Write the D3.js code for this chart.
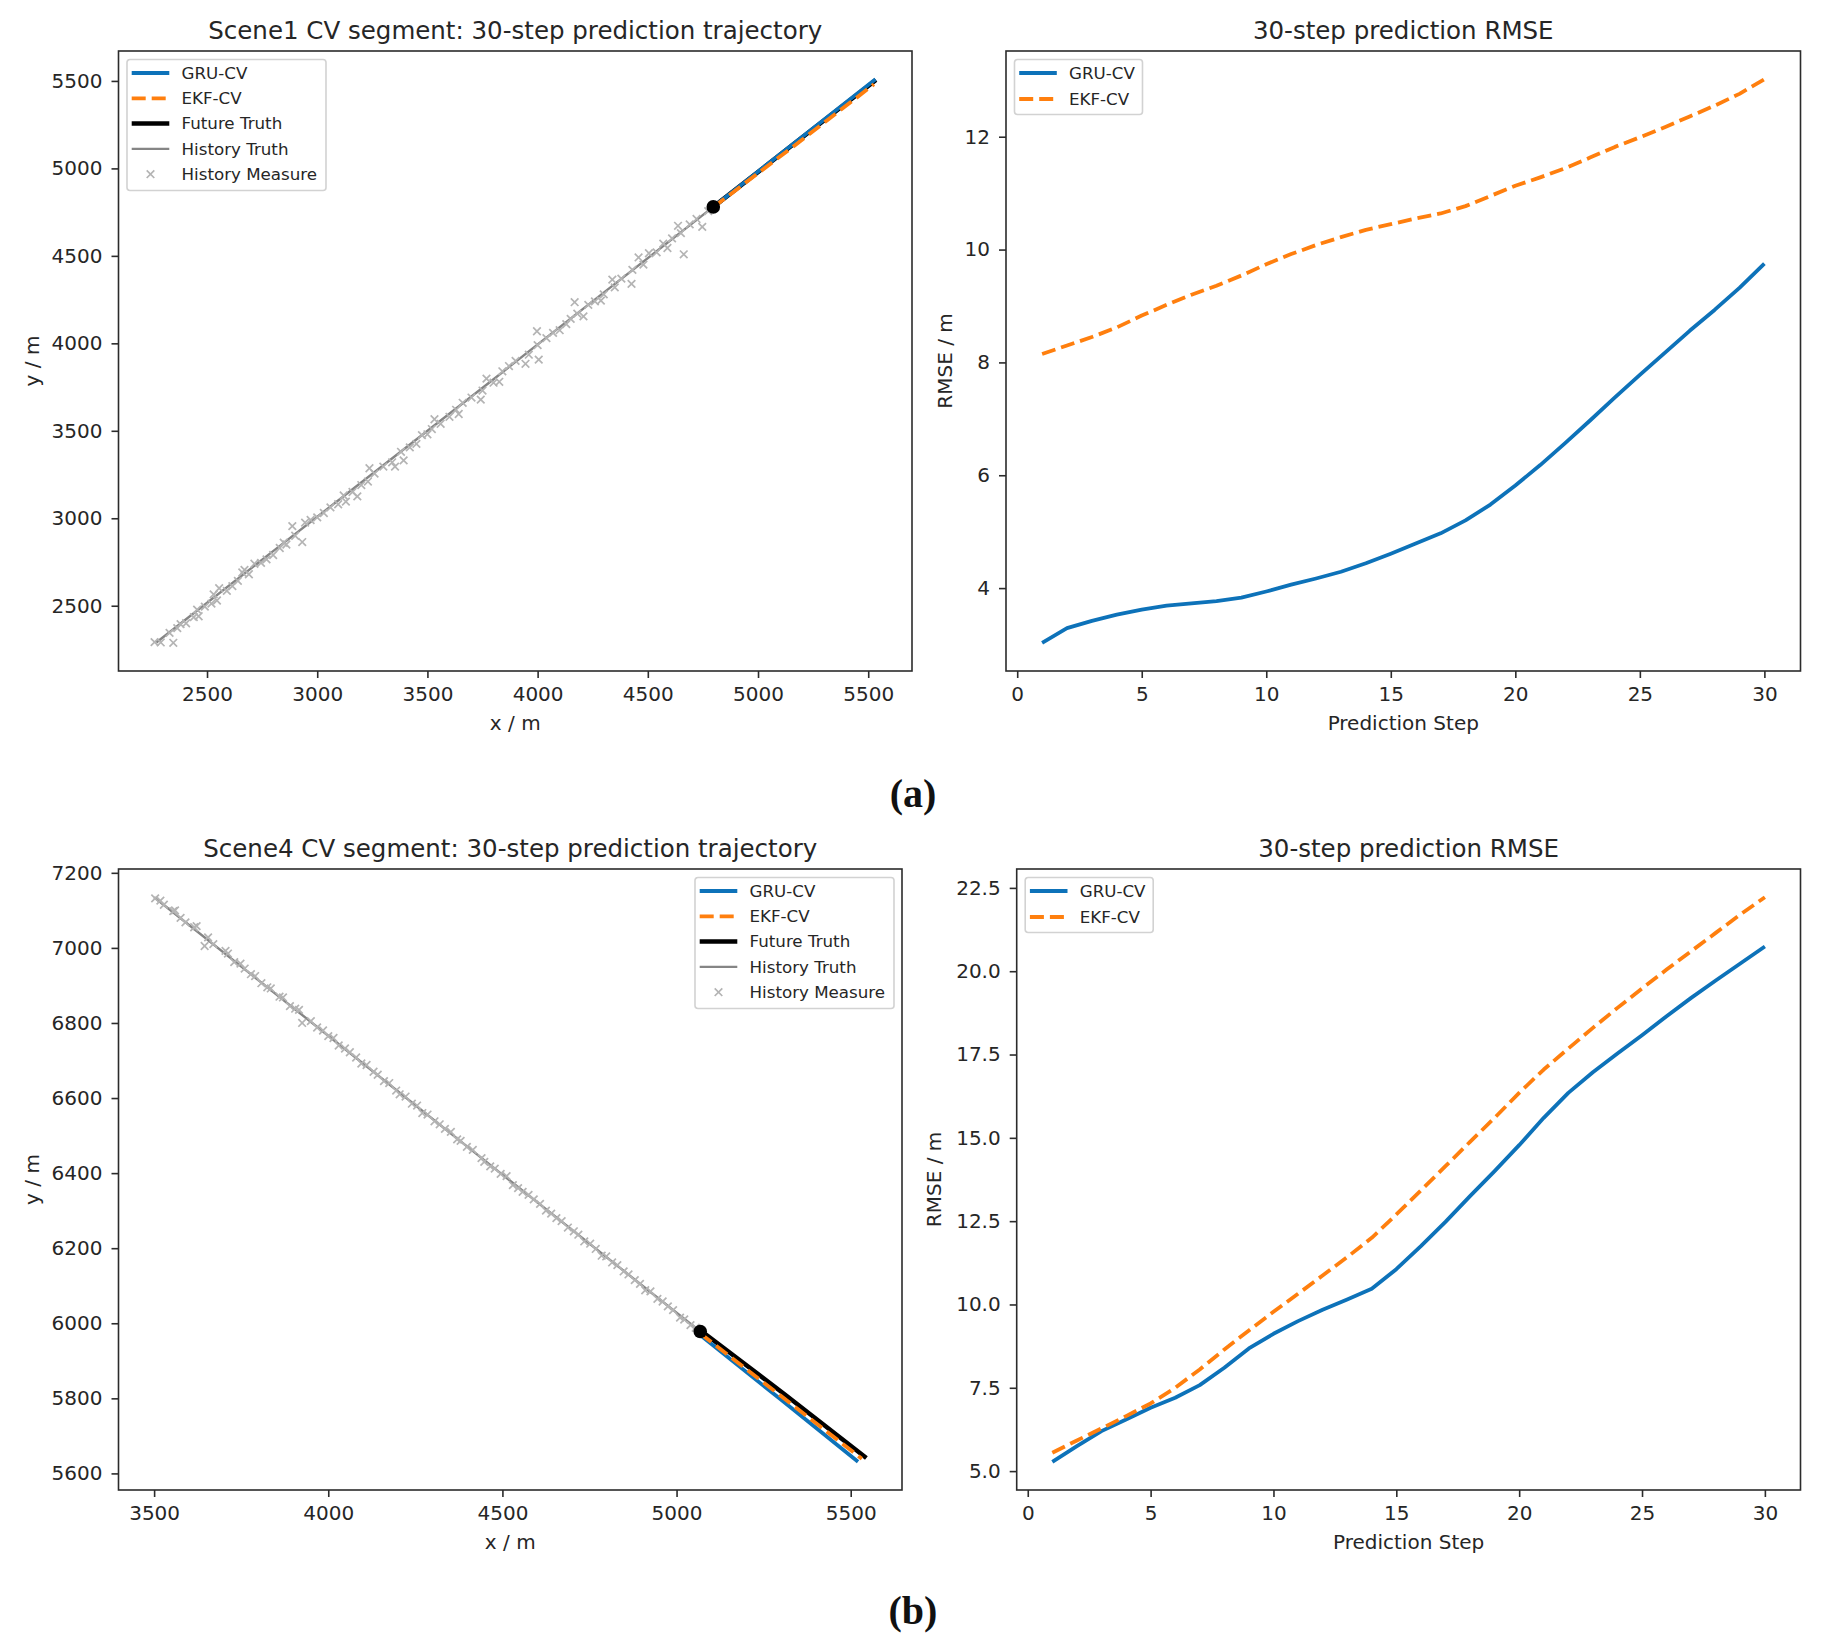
<!DOCTYPE html>
<html>
<head>
<meta charset="utf-8">
<script src="https://cdn.jsdelivr.net/npm/d3@7"></script>
<style>
  body { margin: 0; background: #fff; }
  svg { display: block; }
  text { font-family: "DejaVu Sans", sans-serif; fill: #262626; }
</style>
</head>
<body>
<div id="chart"></div>
<script>
// ---- data ----
const steps = [1, 2, 3, 4, 5, 6, 7, 8, 9, 10, 11, 12, 13, 14, 15,
  16, 17, 18, 19, 20, 21, 22, 23, 24, 25, 26, 27, 28, 29, 30];

const scene1GruRmse = [3.03, 3.29, 3.42, 3.53, 3.62, 3.69, 3.73, 3.77, 3.83, 3.94,
  4.06, 4.17, 4.29, 4.44, 4.61, 4.79, 4.97, 5.20, 5.48, 5.82,
  6.18, 6.57, 6.97, 7.38, 7.78, 8.17, 8.56, 8.93, 9.32, 9.75];
const scene1EkfRmse = [8.15, 8.30, 8.45, 8.62, 8.83, 9.02, 9.20, 9.36, 9.54, 9.74,
  9.92, 10.08, 10.22, 10.35, 10.45, 10.55, 10.64, 10.77, 10.95, 11.13,
  11.28, 11.44, 11.63, 11.82, 11.99, 12.17, 12.36, 12.55, 12.76, 13.02];
const scene4GruRmse = [5.28, 5.75, 6.20, 6.55, 6.90, 7.20, 7.58, 8.10, 8.68, 9.12,
  9.50, 9.84, 10.15, 10.47, 11.06, 11.75, 12.48, 13.25, 14.00, 14.78,
  15.60, 16.35, 16.97, 17.53, 18.08, 18.65, 19.20, 19.72, 20.23, 20.74];
const scene4EkfRmse = [5.55, 5.92, 6.28, 6.65, 7.03, 7.50, 8.05, 8.65, 9.22, 9.78,
  10.32, 10.87, 11.42, 12.00, 12.70, 13.42, 14.15, 14.88, 15.60, 16.35,
  17.05, 17.68, 18.30, 18.90, 19.48, 20.05, 20.60, 21.15, 21.70, 22.22];

// scene 1 trajectory (x, y in m)
const scene1HistTruth = [[2270, 2290], [2800, 2812], [3300, 3303], [3800, 3795], [4300, 4290], [4797, 4780]];
const scene1FutureTruth = [[4797, 4780], [5165, 5142], [5535, 5505]];
const scene1Gru = [[4797, 4780], [5165, 5145], [5533, 5510]];
const scene1Ekf = [[4797, 4778], [5165, 5130], [5526, 5481]];
const scene1Measure = [
  [2262, 2292], [2290, 2290], [2347, 2288], [2330, 2345], [2365, 2372], [2380, 2395], [2405, 2400],
  [2440, 2435], [2455, 2478], [2462, 2440], [2490, 2495], [2520, 2512], [2530, 2565], [2555, 2600],
  [2545, 2530], [2590, 2585], [2615, 2612], [2640, 2642], [2660, 2690], [2670, 2705], [2690, 2680],
  [2715, 2740], [2745, 2745], [2770, 2765], [2800, 2790], [2830, 2830], [2848, 2860], [2860, 2850],
  [2887, 2955], [2900, 2900], [2932, 2864], [2945, 2975], [2970, 2990], [3000, 3005], [3030, 3030],
  [3060, 3062], [3095, 3080], [3120, 3130], [3130, 3095], [3160, 3150], [3182, 3125], [3200, 3190],
  [3230, 3210], [3237, 3286], [3260, 3255], [3300, 3295], [3353, 3295], [3340, 3320], [3392, 3331],
  [3380, 3380], [3420, 3405], [3450, 3425], [3475, 3475], [3500, 3480], [3532, 3566], [3520, 3510],
  [3560, 3540], [3600, 3580], [3642, 3596], [3630, 3620], [3660, 3660], [3700, 3690], [3742, 3678],
  [3750, 3730], [3768, 3798], [3800, 3775], [3826, 3780], [3840, 3840], [3870, 3870], [3900, 3900],
  [3945, 3883], [3960, 3935], [3997, 4069], [4005, 3907], [4000, 3990], [4040, 4030], [4070, 4060],
  [4100, 4075], [4130, 4110], [4150, 4140], [4168, 4235], [4180, 4170], [4208, 4154], [4230, 4220],
  [4260, 4240], [4287, 4244], [4300, 4280], [4339, 4364], [4350, 4320], [4380, 4370], [4426, 4340],
  [4430, 4420], [4458, 4491], [4480, 4450], [4505, 4515], [4540, 4520], [4589, 4545], [4570, 4570],
  [4610, 4600], [4637, 4672], [4663, 4509], [4650, 4630], [4690, 4680], [4721, 4711], [4747, 4666],
  [4774, 4756], [4790, 4770]
];

// scene 4 trajectory
const scene4HistTruth = [[3500, 7135], [4000, 6766], [4500, 6396], [5068, 5978]];
const scene4FutureTruth = [[5070, 5980], [5310, 5811], [5545, 5641]];
const scene4Gru = [[5066, 5970], [5295, 5800], [5521, 5631]];
const scene4Ekf = [[5068, 5973], [5300, 5806], [5532, 5639]];
const scene4Measure = [
  [3503, 7132], [3518, 7126], [3528, 7115], [3555, 7098], [3560, 7100], [3576, 7080], [3590, 7068],
  [3615, 7055], [3622, 7058], [3645, 7005], [3655, 7028], [3670, 7010], [3705, 6992], [3712, 6985],
  [3730, 6962], [3748, 6958], [3760, 6945], [3778, 6930], [3790, 6925], [3808, 6906], [3825, 6895],
  [3835, 6892], [3860, 6870], [3870, 6868], [3890, 6845], [3905, 6838], [3916, 6835], [3925, 6800],
  [3950, 6805], [3968, 6788], [3985, 6780], [4000, 6765], [4015, 6760], [4030, 6740], [4048, 6732],
  [4062, 6722], [4080, 6708], [4095, 6692], [4110, 6688], [4130, 6670], [4142, 6662], [4160, 6645],
  [4175, 6640], [4195, 6620], [4205, 6610], [4222, 6604], [4240, 6585], [4255, 6580], [4270, 6560],
  [4285, 6556], [4305, 6538], [4320, 6530], [4335, 6518], [4352, 6510], [4370, 6490], [4380, 6486],
  [4398, 6470], [4415, 6462], [4440, 6440], [4448, 6430], [4465, 6418], [4478, 6412], [4495, 6398],
  [4512, 6392], [4530, 6368], [4545, 6360], [4558, 6350], [4575, 6342], [4590, 6330], [4608, 6318],
  [4625, 6300], [4640, 6292], [4655, 6280], [4670, 6272], [4688, 6255], [4705, 6245], [4718, 6236],
  [4735, 6218], [4752, 6212], [4768, 6198], [4785, 6180], [4798, 6178], [4815, 6162], [4830, 6155],
  [4848, 6138], [4862, 6130], [4880, 6115], [4895, 6105], [4910, 6088], [4925, 6085], [4945, 6065],
  [4960, 6058], [4975, 6045], [4990, 6035], [5010, 6015], [5022, 6010], [5040, 5995], [5055, 5988],
  [5066, 5978]
];

// tick labels
const scene1Ticks = [2500, 3000, 3500, 4000, 4500, 5000, 5500];
const scene4XTicks = [3500, 4000, 4500, 5000, 5500];
const scene4YTicks = [5600, 5800, 6000, 6200, 6400, 6600, 6800, 7000, 7200];
const stepTicks = [0, 5, 10, 15, 20, 25, 30];
const rmse1Ticks = [4, 6, 8, 10, 12];
const rmse4Ticks = [5, 7.5, 10, 12.5, 15, 17.5, 20, 22.5];

// ---- styles ----
const BLUE = "#0d72b9", ORANGE = "#ff7f0e";
const styles = {
  gru: { stroke: BLUE, width: 3.8, dash: null, label: "GRU-CV" },
  ekf: { stroke: ORANGE, width: 3.8, dash: "14,6", label: "EKF-CV" },
  future: { stroke: "#000", width: 4.5, dash: null, label: "Future Truth" },
  hist: { stroke: "#858585", width: 2.4, dash: null, label: "History Truth" },
  measure: { marker: true, stroke: "#b4b4b4", label: "History Measure" }
};

const W = 1822, H = 1646;
const svg = d3.select("#chart").append("svg")
  .attr("width", W).attr("height", H);
svg.append("rect").attr("width", W).attr("height", H).attr("fill", "#fff");

// matplotlib-like 5% margins
function padded(vals) {
  const [a, b] = d3.extent(vals);
  const m = (b - a) * 0.05;
  return [a - m, b + m];
}

function crossPath(cx, cy, r) {
  return `M${cx - r},${cy - r}L${cx + r},${cy + r}M${cx - r},${cy + r}L${cx + r},${cy - r}`;
}

let clipId = 0;
function drawPanel(p) {
  const b = p.box;
  const x = d3.scaleLinear().domain(p.xDomain).range([b.x0, b.x1]);
  const y = d3.scaleLinear().domain(p.yDomain).range([b.y1, b.y0]);
  const g = svg.append("g");

  const cid = "clip" + (clipId++);
  svg.append("clipPath").attr("id", cid)
    .append("rect").attr("x", b.x0).attr("y", b.y0)
    .attr("width", b.x1 - b.x0).attr("height", b.y1 - b.y0);
  const plot = g.append("g").attr("clip-path", `url(#${cid})`);

  const line = d3.line().x(d => x(d[0])).y(d => y(d[1]));

  p.series.forEach(s => {
    const st = styles[s.key];
    if (st.marker) {
      plot.append("g").selectAll("path").data(s.data).join("path")
        .attr("d", d => crossPath(x(d[0]), y(d[1]), 3.8))
        .attr("stroke", st.stroke).attr("stroke-width", 1.7).attr("fill", "none");
    } else {
      plot.append("path").datum(s.data)
        .attr("d", line)
        .attr("fill", "none")
        .attr("stroke", st.stroke)
        .attr("stroke-width", st.width)
        .attr("stroke-dasharray", st.dash)
        .attr("stroke-linejoin", "round");
    }
  });

  if (p.dot) {
    plot.append("circle")
      .attr("cx", x(p.dot[0])).attr("cy", y(p.dot[1])).attr("r", 6.8)
      .attr("fill", "#000");
  }

  // axes
  const xAxis = g.append("g").attr("transform", `translate(0,${b.y1})`)
    .call(d3.axisBottom(x).tickValues(p.xTicks).tickSize(7).tickSizeOuter(0).tickPadding(9)
      .tickFormat(p.xFormat || d3.format("d")));
  const yAxis = g.append("g").attr("transform", `translate(${b.x0},0)`)
    .call(d3.axisLeft(y).tickValues(p.yTicks).tickSize(7).tickSizeOuter(0).tickPadding(9)
      .tickFormat(p.yFormat || d3.format("d")));
  [xAxis, yAxis].forEach(a => {
    a.select(".domain").remove();
    a.selectAll("line").attr("stroke", "#2b2b2b").attr("stroke-width", 1.6);
    a.selectAll("text").attr("font-size", 20).attr("font-family", "DejaVu Sans").attr("fill", "#262626");
  });

  // frame
  g.append("rect")
    .attr("x", b.x0).attr("y", b.y0)
    .attr("width", b.x1 - b.x0).attr("height", b.y1 - b.y0)
    .attr("fill", "none").attr("stroke", "#2b2b2b").attr("stroke-width", 1.6);

  // labels
  g.append("text")
    .attr("x", (b.x0 + b.x1) / 2).attr("y", b.y0 - 21).attr("dy", "0.35em")
    .attr("text-anchor", "middle").attr("font-size", 24.5)
    .text(p.title);
  g.append("text")
    .attr("x", (b.x0 + b.x1) / 2).attr("y", b.y1 + 52).attr("dy", "0.35em")
    .attr("text-anchor", "middle").attr("font-size", 20)
    .text(p.xLabel);
  g.append("text")
    .attr("transform", `translate(${p.yLabelX},${(b.y0 + b.y1) / 2}) rotate(-90)`)
    .attr("dy", "0.35em")
    .attr("text-anchor", "middle").attr("font-size", 20)
    .text(p.yLabel);

  // legend
  const keys = p.legendKeys;
  const lw = keys.length > 2 ? 199 : 128;
  const lh = keys.length > 2 ? 131 : 55;
  const lx = p.legendRight ? b.x1 - 8 - lw : b.x0 + 8.5;
  const ly = b.y0 + 8.5;
  const leg = g.append("g").attr("transform", `translate(${lx},${ly})`);
  leg.append("rect").attr("width", lw).attr("height", lh).attr("rx", 3)
    .attr("fill", "#fff").attr("fill-opacity", 0.8)
    .attr("stroke", "#d2d2d2").attr("stroke-width", 1.6);
  const rowGap = keys.length > 2 ? 25.3 : 26;
  keys.forEach((k, i) => {
    const st = styles[k];
    const cy = 13.5 + i * rowGap;
    if (st.marker) {
      leg.append("path")
        .attr("d", crossPath(23.5, cy, 3.8))
        .attr("stroke", st.stroke).attr("stroke-width", 1.7);
    } else {
      leg.append("line").attr("x1", 4.7).attr("x2", 42.3).attr("y1", cy).attr("y2", cy)
        .attr("stroke", st.stroke).attr("stroke-width", st.width)
        .attr("stroke-dasharray", st.dash);
    }
    leg.append("text").attr("x", 54.5).attr("y", cy).attr("dy", "0.35em")
      .attr("font-size", 16.7).text(st.label);
  });
}

const trajKeys = ["gru", "ekf", "future", "hist", "measure"];
const allPts = arr => arr.flat();

const s1 = [scene1Measure, scene1HistTruth, scene1FutureTruth, scene1Gru, scene1Ekf];
drawPanel({
  box: { x0: 118.5, x1: 912, y0: 51, y1: 671 },
  title: "Scene1 CV segment: 30-step prediction trajectory",
  xLabel: "x / m", yLabel: "y / m", yLabelX: 32,
  xDomain: padded(allPts(s1).map(d => d[0])),
  yDomain: padded(allPts(s1).map(d => d[1])),
  xTicks: scene1Ticks, yTicks: scene1Ticks,
  series: [
    { key: "hist", data: scene1HistTruth },
    { key: "measure", data: scene1Measure },
    { key: "future", data: scene1FutureTruth },
    { key: "gru", data: scene1Gru },
    { key: "ekf", data: scene1Ekf }
  ],
  dot: scene1HistTruth[scene1HistTruth.length - 1],
  legendKeys: trajKeys, legendRight: false
});

drawPanel({
  box: { x0: 1006, x1: 1800.5, y0: 51, y1: 671 },
  title: "30-step prediction RMSE",
  xLabel: "Prediction Step", yLabel: "RMSE / m", yLabelX: 945,
  xDomain: padded(steps),
  yDomain: padded(scene1GruRmse.concat(scene1EkfRmse)),
  xTicks: stepTicks, yTicks: rmse1Ticks,
  series: [
    { key: "gru", data: steps.map((s, i) => [s, scene1GruRmse[i]]) },
    { key: "ekf", data: steps.map((s, i) => [s, scene1EkfRmse[i]]) }
  ],
  legendKeys: ["gru", "ekf"], legendRight: false
});

const s4 = [scene4Measure, scene4HistTruth, scene4FutureTruth, scene4Gru, scene4Ekf];
drawPanel({
  box: { x0: 118.5, x1: 902, y0: 869, y1: 1490 },
  title: "Scene4 CV segment: 30-step prediction trajectory",
  xLabel: "x / m", yLabel: "y / m", yLabelX: 32,
  xDomain: padded(allPts(s4).map(d => d[0])),
  yDomain: padded(allPts(s4).map(d => d[1])),
  xTicks: scene4XTicks, yTicks: scene4YTicks,
  series: [
    { key: "hist", data: scene4HistTruth },
    { key: "measure", data: scene4Measure },
    { key: "future", data: scene4FutureTruth },
    { key: "gru", data: scene4Gru },
    { key: "ekf", data: scene4Ekf }
  ],
  dot: scene4HistTruth[scene4HistTruth.length - 1],
  legendKeys: trajKeys, legendRight: true
});

drawPanel({
  box: { x0: 1016.7, x1: 1800.5, y0: 869, y1: 1490 },
  title: "30-step prediction RMSE",
  xLabel: "Prediction Step", yLabel: "RMSE / m", yLabelX: 934,
  xDomain: padded(steps),
  yDomain: padded(scene4GruRmse.concat(scene4EkfRmse)),
  xTicks: stepTicks, yTicks: rmse4Ticks, yFormat: d3.format(".1f"),
  series: [
    { key: "gru", data: steps.map((s, i) => [s, scene4GruRmse[i]]) },
    { key: "ekf", data: steps.map((s, i) => [s, scene4EkfRmse[i]]) }
  ],
  legendKeys: ["gru", "ekf"], legendRight: false
});

// sub-figure captions
[["(a)", 793], ["(b)", 1610]].forEach(([t, cy]) => {
  svg.append("text")
    .attr("x", 913).attr("y", cy).attr("dy", "0.35em")
    .attr("text-anchor", "middle")
    .attr("font-weight", "bold").attr("font-size", 40)
    .style("font-family", "'Liberation Serif', serif")
    .style("fill", "#111")
    .text(t);
});
</script>
</body>
</html>
